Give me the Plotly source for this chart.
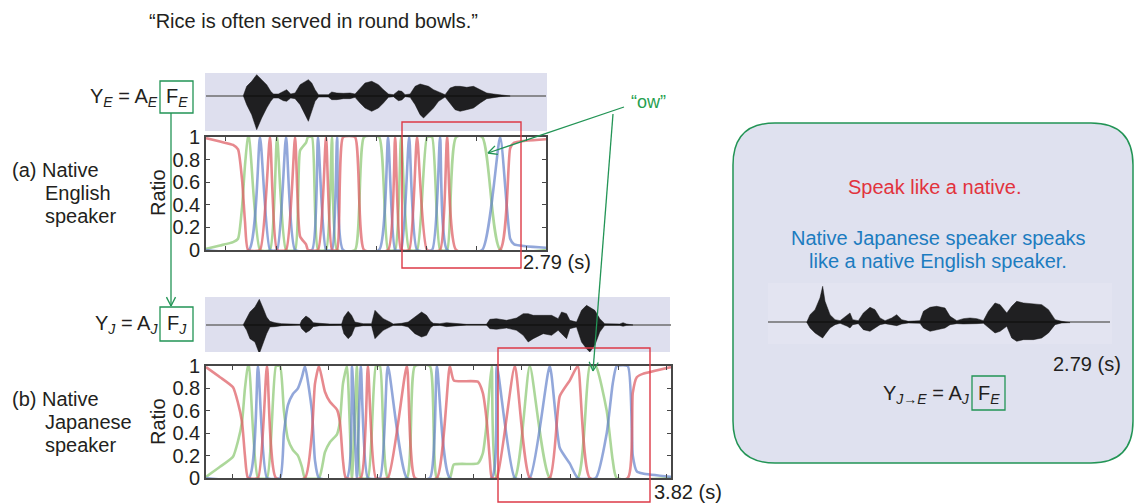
import math
import plotly.graph_objects as go

W, H = 1135, 503

# ---------------- data ----------------
top_duration = 2.79
bottom_duration = 3.82
ratio_tick_vals = [0, 0.2, 0.4, 0.6, 0.8, 1]
ratio_tick_text = ["0", "0.2", "0.4", "0.6", "0.8", "1"]

# (a) native English speaker: activation ratios
top_red_t = [0, 0.115, 0.222, 0.263, 0.296, 0.320, 0.345, 0.443, 0.525, 0.583, 0.657, 0.731, 0.772, 0.821, 0.837,
             0.919, 0.985, 1.034, 1.076, 1.125, 1.223, 1.297, 1.494, 1.552, 1.601, 1.667, 1.732, 1.814, 1.921, 1.979,
             2.053, 2.414, 2.496, 2.529, 2.79]
top_red_v = [0.99, 0.96, 0.93, 0.89, 0.62, 0.25, 0, 0, 1, 0, 0, 1, 0.12, 0.05, 0,
             0, 1, 0, 0, 1, 1, 0, 0, 1, 0, 0, 1, 0, 0, 1,
             0, 0, 0.9, 0.95, 0.98]
top_green_t = [0, 0.115, 0.222, 0.263, 0.296, 0.320, 0.345, 0.353, 0.443, 0.525, 0.583, 0.657, 0.731, 0.772, 0.821,
               0.837, 0.870, 0.919, 0.985, 1.034, 1.076, 1.223, 1.297, 1.420, 1.494, 1.552, 1.601, 1.667, 1.732, 1.814,
               1.855, 1.921, 1.979, 2.053, 2.266, 2.414, 2.79]
top_green_v = [0.01, 0.04, 0.07, 0.10, 0.38, 0.75, 1, 1, 0, 0, 1, 0, 0, 0.88, 0.95,
               1, 1, 0, 0, 1, 0, 0, 1, 1, 0, 0, 1, 0, 0, 1,
               1, 0, 0, 1, 1, 0, 0]
top_blue_t = [0, 0.353, 0.443, 0.525, 0.583, 0.657, 0.731, 0.870, 0.919, 0.985, 1.034, 1.076, 1.125, 1.420, 1.494,
              1.552, 1.601, 1.667, 1.732, 1.855, 1.921, 1.979, 2.266, 2.414, 2.496, 2.529, 2.79]
top_blue_v = [0, 0, 1, 0, 0, 1, 0, 0, 1, 0, 0, 1, 0, 0, 1,
              0, 0, 1, 0, 0, 1, 0, 0, 1, 0.10, 0.05, 0.02]

# (b) native Japanese speaker: activation ratios
bot_red_t = [0, 0.115, 0.222, 0.263, 0.296, 0.320, 0.345, 0.427, 0.501, 0.575, 0.813, 0.870, 0.895, 0.928, 0.977,
             1.018, 1.076, 1.100, 1.125, 1.149, 1.272, 1.330, 1.396, 1.494, 1.650, 1.716, 1.897, 2.003, 2.036, 2.233,
             2.274, 2.307, 2.332, 2.348, 2.389, 2.537, 2.660, 2.824, 2.906, 2.988, 3.054, 3.153, 3.465, 3.506, 3.539,
             3.588, 3.82]
bot_red_v = [0.99, 0.90, 0.81, 0.67, 0.50, 0.20, 0, 0, 1, 0, 0, 0.40, 0.84, 1, 0.77,
             0.68, 0.61, 0.50, 0.16, 0, 0, 1, 0, 0, 1, 0, 0, 1, 0.87, 0.86,
             0.76, 0.50, 0.16, 0, 0, 1, 0, 0, 0.73, 0.87, 1, 0, 0, 0.76, 0.90,
             0.93, 0.99]
bot_green_t = [0, 0.115, 0.222, 0.263, 0.296, 0.320, 0.345, 0.353, 0.427, 0.501, 0.575, 0.608, 0.640, 0.673, 0.714,
               0.755, 0.788, 0.813, 0.928, 0.977, 1.018, 1.076, 1.100, 1.125, 1.158, 1.199, 1.240, 1.272, 1.330, 1.396,
               1.429, 1.494, 1.650, 1.716, 1.839, 1.897, 2.003, 2.036, 2.233, 2.274, 2.307, 2.332, 2.348, 2.389, 2.537,
               2.660, 2.824, 3.054, 3.153, 3.202, 3.292, 3.341, 3.374, 3.82]
bot_green_v = [0.01, 0.10, 0.19, 0.33, 0.50, 0.80, 1, 1, 0, 0, 1, 1, 0.60, 0.35, 0.25,
               0.20, 0.10, 0, 0, 0.23, 0.32, 0.39, 0.50, 0.84, 1, 0, 1, 0, 0, 1,
               1, 0, 0, 1, 1, 0, 0, 0.12, 0.13, 0.22, 0.50, 0.84, 1, 0, 0,
               1, 0, 0, 1, 1, 0.60, 0.16, 0, 0]
bot_blue_t = [0, 0.353, 0.427, 0.501, 0.608, 0.640, 0.673, 0.714, 0.755, 0.788, 0.813, 0.870, 0.895, 0.928, 1.158,
              1.199, 1.240, 1.272, 1.330, 1.429, 1.494, 1.650, 1.839, 1.897, 2.003, 2.348, 2.389, 2.537, 2.660, 2.824,
              2.906, 2.988, 3.054, 3.202, 3.292, 3.341, 3.374, 3.465, 3.506, 3.539, 3.588, 3.82]
bot_blue_v = [0, 0, 1, 0, 0, 0.40, 0.65, 0.75, 0.80, 0.90, 1, 0.60, 0.16, 0, 0,
              1, 0, 1, 0, 0, 1, 0, 0, 1, 0, 0, 1, 0, 0, 1,
              0.27, 0.13, 0, 0, 0.40, 0.84, 1, 1, 0.20, 0.06, 0.04, 0.01]

# waveform envelopes (time s, upper / lower amplitude)
wave_e_t = [0.306, 0.334, 0.375, 0.416, 0.457, 0.498, 0.531, 0.553, 0.594, 0.635, 0.662, 0.695, 0.731, 0.772, 0.813,
            0.840, 0.868, 0.895, 0.923, 1.004, 1.032, 1.073, 1.128, 1.182, 1.223, 1.264, 1.305, 1.360, 1.415, 1.456,
            1.497, 1.538, 1.579, 1.607, 1.634, 1.675, 1.716, 1.757, 1.785, 1.826, 1.867, 1.908, 1.962, 2.003, 2.044,
            2.085, 2.140, 2.195, 2.250, 2.304, 2.359, 2.414, 2.496]
wave_e_up = [0, 0.28, 0.43, 0.63, 0.48, 0.33, 0.13, 0.05, 0.05, 0.13, 0.18, 0.05, 0.08, 0.33, 0.43,
             0.48, 0.38, 0.18, 0.03, 0.03, 0.11, 0.08, 0.07, 0.08, 0.05, 0.23, 0.38, 0.43, 0.33, 0.18,
             0.05, 0.03, 0.15, 0.13, 0.03, 0.05, 0.28, 0.35, 0.33, 0.28, 0.18, 0.11, 0.03, 0.23, 0.28,
             0.28, 0.25, 0.28, 0.18, 0.08, 0.05, 0.03, 0.01]
wave_e_low = [0, -0.27, -0.57, -1.02, -0.67, -0.37, -0.17, -0.07, -0.07, -0.15, -0.17, -0.07, -0.09, -0.27, -0.57,
              -0.77, -0.47, -0.17, -0.04, -0.04, -0.12, -0.12, -0.09, -0.09, -0.05, -0.22, -0.37, -0.47, -0.37, -0.22,
              -0.05, -0.03, -0.15, -0.13, -0.03, -0.05, -0.27, -0.57, -0.67, -0.52, -0.37, -0.17, -0.04, -0.22, -0.42,
              -0.47, -0.42, -0.37, -0.22, -0.09, -0.05, -0.03, -0.01]

wave_j_t = [0.306, 0.334, 0.361, 0.402, 0.438, 0.471, 0.498, 0.525, 0.566, 0.621, 0.772, 0.786, 0.821, 0.854, 0.881,
            0.936, 1.018, 1.114, 1.133, 1.168, 1.196, 1.223, 1.291, 1.360, 1.388, 1.415, 1.456, 1.511, 1.538, 1.607,
            1.661, 1.716, 1.771, 1.812, 1.845, 1.867, 1.921, 1.976, 2.031, 2.140, 2.304, 2.332, 2.386, 2.469, 2.551,
            2.606, 2.647, 2.688, 2.770, 2.839, 2.893, 2.921, 2.962, 2.989, 3.044, 3.085, 3.126, 3.153, 3.194, 3.235,
            3.276, 3.399, 3.426, 3.454, 3.508]
wave_j_up = [0, 0.18, 0.38, 0.53, 0.76, 0.48, 0.23, 0.10, 0.06, 0.03, 0.01, 0.13, 0.26, 0.18, 0.06,
             0.04, 0.02, 0.02, 0.23, 0.40, 0.28, 0.08, 0.03, 0.03, 0.43, 0.33, 0.18, 0.08, 0.02, 0.04,
             0.08, 0.23, 0.38, 0.28, 0.10, 0.04, 0.03, 0.06, 0.04, 0.01, 0.01, 0.16, 0.18, 0.13, 0.20,
             0.33, 0.33, 0.28, 0.28, 0.28, 0.18, 0.38, 0.33, 0.13, 0.08, 0.43, 0.58, 0.53, 0.43, 0.18,
             0.03, 0.02, 0.06, 0.02, 0.01]
wave_j_low = [0, -0.17, -0.42, -0.52, -0.87, -0.52, -0.27, -0.07, -0.06, -0.03, -0.01, -0.12, -0.24, -0.17, -0.06,
              -0.03, -0.02, -0.02, -0.27, -0.42, -0.32, -0.07, -0.03, -0.03, -0.42, -0.32, -0.17, -0.07, -0.02, -0.02,
              -0.07, -0.27, -0.37, -0.32, -0.09, -0.03, -0.02, -0.06, -0.04, -0.01, -0.01, -0.12, -0.14, -0.10, -0.17,
              -0.32, -0.52, -0.42, -0.27, -0.32, -0.17, -0.27, -0.42, -0.12, -0.07, -0.52, -0.72, -0.82, -0.62, -0.22,
              -0.02, -0.02, -0.05, -0.02, -0.01]

wave_je_t = [0.316, 0.343, 0.384, 0.424, 0.446, 0.465, 0.506, 0.547, 0.588, 0.647, 0.669, 0.691, 0.737, 0.778, 0.832,
             0.873, 0.914, 0.955, 1.009, 1.050, 1.091, 1.145, 1.240, 1.268, 1.322, 1.376, 1.444, 1.485, 1.540, 1.594,
             1.648, 1.703, 1.757, 1.798, 1.852, 1.893, 1.948, 1.988, 2.029, 2.084, 2.165, 2.233, 2.288, 2.342, 2.396,
             2.464]
wave_je_up = [0, 0.23, 0.38, 0.73, 1.08, 0.63, 0.23, 0.08, 0.05, 0.23, 0.28, 0.08, 0.05, 0.28, 0.45,
              0.38, 0.13, 0.05, 0.13, 0.23, 0.08, 0.03, 0.05, 0.33, 0.45, 0.48, 0.43, 0.18, 0.05, 0.11,
              0.13, 0.11, 0.05, 0.33, 0.58, 0.53, 0.28, 0.48, 0.63, 0.58, 0.55, 0.53, 0.38, 0.08, 0.03,
              0.01]
wave_je_low = [0, -0.17, -0.32, -0.42, -0.47, -0.37, -0.17, -0.07, -0.03, -0.12, -0.17, -0.07, -0.04, -0.22, -0.27,
               -0.17, -0.07, -0.04, -0.07, -0.10, -0.05, -0.02, -0.03, -0.17, -0.27, -0.22, -0.17, -0.07, -0.04, -0.05,
               -0.05, -0.04, -0.03, -0.17, -0.32, -0.27, -0.12, -0.47, -0.57, -0.52, -0.52, -0.47, -0.32, -0.07, -0.02,
               -0.01]

# ---------------- styling ----------------
FONT = "Liberation Sans, Arial, Helvetica, sans-serif"
TXT = "#231f20"
RED = "rgba(222,92,98,0.72)"
GREEN = "rgba(140,200,115,0.72)"
BLUE = "rgba(95,125,200,0.68)"
BOXGREEN = "#229455"
BOXRED = "#dd3a47"
PANEL = "#dedfee"


def PX(x):
    return x / W


def PY(y):
    return 1 - y / H


fig = go.Figure()


def add_ratio(t_r, v_r, t_g, v_g, t_b, v_b, xa, ya):
    for t, v, c in ((t_g, v_g, GREEN), (t_b, v_b, BLUE), (t_r, v_r, RED)):
        fig.add_trace(go.Scatter(x=t, y=v, mode="lines", xaxis=xa, yaxis=ya,
                                 line=dict(color=c, width=2.6, shape="spline", smoothing=0.5),
                                 hoverinfo="skip", cliponaxis=True))


def add_wave(t, up, low, xa, ya):
    fig.add_trace(go.Scatter(x=list(t) + list(t[::-1]), y=list(up) + list(low[::-1]), mode="lines",
                             fill="toself", fillcolor="rgba(5,5,5,0.88)", xaxis=xa, yaxis=ya,
                             line=dict(color="rgba(20,20,20,0.6)", width=0.8), hoverinfo="skip"))


add_ratio(top_red_t, top_red_v, top_green_t, top_green_v, top_blue_t, top_blue_v, "x", "y")
add_wave(wave_e_t, wave_e_up, wave_e_low, "x2", "y2")
add_ratio(bot_red_t, bot_red_v, bot_green_t, bot_green_v, bot_blue_t, bot_blue_v, "x3", "y3")
add_wave(wave_j_t, wave_j_up, wave_j_low, "x4", "y4")
add_wave(wave_je_t, wave_je_up, wave_je_low, "x5", "y5")

frame = dict(showline=True, linecolor="#474747", linewidth=1.6, mirror="ticks", ticks="inside",
             ticklen=4, tickcolor="#474747", tickwidth=1.2, showgrid=False, zeroline=False)
ratio_y = dict(frame, range=[0, 1], tickvals=ratio_tick_vals, ticktext=ratio_tick_text,
               tickfont=dict(size=20, color=TXT, family=FONT))
wave_x = dict(visible=False, showgrid=False, zeroline=False)
wave_y = dict(showgrid=False, showticklabels=False, ticks="", showline=False, zeroline=True,
              zerolinecolor="rgba(110,110,110,0.75)", zerolinewidth=1.6)

fig.update_layout(
    width=W, height=H, margin=dict(l=0, r=0, t=0, b=0, pad=0, autoexpand=False),
    paper_bgcolor="white", plot_bgcolor="rgba(0,0,0,0)", showlegend=False,
    font=dict(family=FONT, color=TXT, size=20),
    xaxis=dict(frame, domain=[PX(206), PX(546)], range=[0, top_duration], anchor="y",
               tick0=0.164, dtick=0.4105, showticklabels=False),
    yaxis=dict(ratio_y, domain=[PY(250), PY(137)], anchor="x"),
    xaxis2=dict(wave_x, domain=[PX(206), PX(546)], range=[0, top_duration], anchor="y2"),
    yaxis2=dict(wave_y, domain=[PY(131), PY(73)], range=[-1.06, 0.68], anchor="x2"),
    xaxis3=dict(frame, domain=[PX(206), PX(671)], range=[0, bottom_duration], anchor="y3",
                tick0=0.216, dtick=0.3965, showticklabels=False),
    yaxis3=dict(ratio_y, domain=[PY(478), PY(366)], anchor="x3"),
    xaxis4=dict(wave_x, domain=[PX(206), PX(671)], range=[0, bottom_duration], anchor="y4"),
    yaxis4=dict(wave_y, domain=[PY(352), PY(297)], range=[-0.82, 0.83], anchor="x4"),
    xaxis5=dict(wave_x, domain=[PX(768), PX(1110)], range=[0, top_duration], anchor="y5"),
    yaxis5=dict(wave_y, domain=[PY(352.3), PY(282.3)], range=[-0.9, 1.2], anchor="x5"),
)

shapes = []


def rect(x0, y0, x1, y1, line=None, fill=None, layer="above", width=1.3):
    shapes.append(dict(type="rect", xref="paper", yref="paper", x0=PX(x0), x1=PX(x1), y0=PY(y1), y1=PY(y0),
                       line=dict(color=line or "rgba(0,0,0,0)", width=width if line else 0),
                       fillcolor=fill or "rgba(0,0,0,0)", layer=layer))


def seg(x0, y0, x1, y1, color, width=1.3):
    shapes.append(dict(type="line", xref="paper", yref="paper", x0=PX(x0), y0=PY(y0), x1=PX(x1), y1=PY(y1),
                       line=dict(color=color, width=width), layer="above"))


def arrow(x0, y0, x1, y1, color, L=10, ang=27):
    seg(x0, y0, x1, y1, color)
    a = math.atan2(y1 - y0, x1 - x0)
    for s in (1, -1):
        b = a + math.pi + s * math.radians(ang)
        seg(x1, y1, x1 + L * math.cos(b), y1 + L * math.sin(b), color)


# rounded right panel
x0, x1, y0, y1, r = 733, 1133, 123, 463, 42
pts = lambda x, y: f"{PX(x):.5f},{PY(y):.5f}"
path = (f"M {pts(x0 + r, y0)} L {pts(x1 - r, y0)} Q {pts(x1, y0)} {pts(x1, y0 + r)} "
        f"L {pts(x1, y1 - r)} Q {pts(x1, y1)} {pts(x1 - r, y1)} L {pts(x0 + r, y1)} "
        f"Q {pts(x0, y1)} {pts(x0, y1 - r)} L {pts(x0, y0 + r)} Q {pts(x0, y0)} {pts(x0 + r, y0)} Z")
shapes.append(dict(type="path", xref="paper", yref="paper", path=path, fillcolor="#dfe1ef",
                   line=dict(color=BOXGREEN, width=1.5), layer="below"))
# waveform panels
rect(205, 73, 547, 131, fill=PANEL, layer="below")
rect(205, 297, 670, 352, fill=PANEL, layer="below")
rect(768, 283, 1112, 344, fill="#e3e4f1", layer="below")
# red highlight boxes
rect(402, 122, 521, 268, line=BOXRED, width=1.4)
rect(498, 348, 650, 502, line=BOXRED, width=1.4)
# green boxes around F
rect(160, 81, 193, 113, line=BOXGREEN)
rect(160, 307, 193, 341, line=BOXGREEN)
rect(972, 376, 1005, 410, line=BOXGREEN)
# arrows
arrow(171, 113, 171, 306, BOXGREEN)
arrow(624, 107, 488, 153, BOXGREEN)
arrow(613, 114, 593, 371, BOXGREEN)

fig.update_layout(shapes=shapes)

ann = []


def text(s, x, y, xanchor="left", size=20, color=TXT, angle=0):
    ann.append(dict(text=s, x=PX(x), y=PY(y), xref="paper", yref="paper", xanchor=xanchor, yanchor="middle",
                    showarrow=False, textangle=angle, font=dict(size=size, color=color, family=FONT)))


text("\u201cRice is often served in round bowls.\u201d", 147, 21)
text("Y<sub><i>E</i></sub> = A<sub><i>E</i></sub>", 160, 97, xanchor="right")
text("F<sub><i>E</i></sub>", 176.5, 97, xanchor="center")
text("(a) Native", 10, 170)
text("English", 43, 193)
text("speaker", 43, 216)
text("Ratio", 158, 193, xanchor="center", angle=-90)
text("2.79 (s)", 521, 262)
text("Y<sub><i>J</i></sub> = A<sub><i>J</i></sub>", 160, 324, xanchor="right")
text("F<sub><i>J</i></sub>", 176.5, 324, xanchor="center")
text("(b) Native", 10, 399)
text("Japanese", 43, 422)
text("speaker", 43, 445)
text("Ratio", 158, 422, xanchor="center", angle=-90)
text("3.82 (s)", 652, 492)
text("\u201cow\u201d", 648, 102, xanchor="center", size=18, color="#27a04f")
text("Speak like a native.", 934, 187, xanchor="center", color="#e2333d")
text("Native Japanese speaker speaks", 938, 238, xanchor="center", color="#1c7cc0")
text("like a native English speaker.", 938, 261, xanchor="center", color="#1c7cc0")
text("2.79 (s)", 1051, 364)
text("Y<sub><i>J\u2192E</i></sub> = A<sub><i>J</i></sub>", 972, 394, xanchor="right")
text("F<sub><i>E</i></sub>", 988.5, 394, xanchor="center")

fig.update_layout(annotations=ann)
fig.write_html("out.html", config={"displayModeBar": False},
               post_script="document.body.style.margin='0px';document.body.style.overflow='hidden';")
